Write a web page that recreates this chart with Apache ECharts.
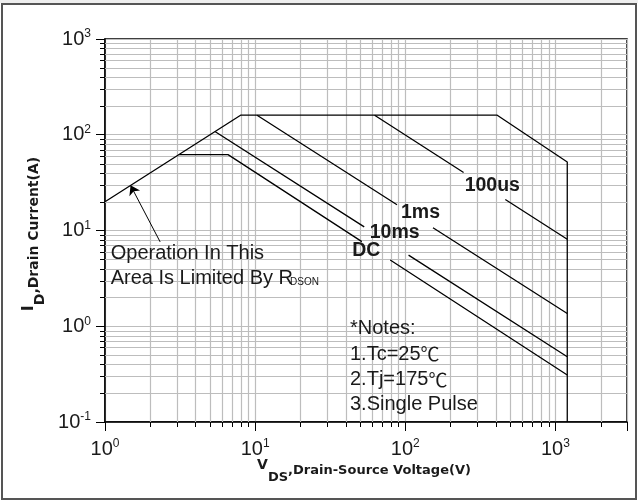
<!DOCTYPE html>
<html><head><meta charset="utf-8">
<script src="https://cdn.jsdelivr.net/npm/echarts@6/dist/echarts.min.js"></script>
<style>html,body{margin:0;padding:0;background:#fff;}#c{width:638px;height:501px;}</style>
</head><body><div id="c"></div>
<script>
// ---- axes ----
const xMin = 1, xMax = 3000, yMin = 0.1, yMax = 1000;
const xDecades = [1, 10, 100, 1000];
const yDecades = [0.1, 1, 10, 100, 1000];
const xMinorTicks = [2,3,4,5,6,7,8,9,20,30,40,50,60,70,80,90,200,300,400,500,600,700,800,900,2000];
const yMinorTicks = [0.2,0.3,0.4,0.5,0.6,0.7,0.8,0.9,2,3,4,5,6,7,8,9,20,30,40,50,60,70,80,90,200,300,400,500,600,700,800,900];

// ---- curves (V, I); null = gap for label ----
const limitV = [1, 8, 410, 1200, 1200];
const limitI = [20, 160, 160, 52, 0.1];
const us100V = [62.5, 244.7, null, 464, 1200];
const us100I = [160, 40.3, null, 21.1, 8.1];
const ms1V = [10.3, 88.1, null, 153, 1200];
const ms1I = [160, 18.6, null, 10.7, 1.36];
const ms10V = [5.4, 53.3, null, 105.2, 1200];
const ms10I = [108, 10.9, null, 5.53, 0.48];
const dcV = [3.1, 6.6, 51.4, null, 79.4, 1200];
const dcI = [62, 62, 7.66, null, 4.92, 0.31];
const arrowV = [2.33, 1.48];
const arrowI = [7.6, 29.6];

const gridColor = '#bdbdbd';
const ink = '#1a1a1a';
const FONT = '"Liberation Sans", Arial, sans-serif';
const TFONT = '"DejaVu Sans", sans-serif';
const CJK = '"Noto Sans CJK SC", sans-serif';

function pairs(vs, is) {
  return vs.map((v, k) => v === null ? ['-', '-'] : [v, is[k]]);
}
function isDecade(v, list) {
  return list.some(d => Math.abs(Math.log10(v) - Math.log10(d)) < 1e-6);
}
function powLabel(list) {
  return function (v) {
    if (!isDecade(v, list)) return '';
    const e = Math.round(Math.log10(v));
    return '{b|10}{s|' + e + '}';
  };
}
const labelRich = {
  b: {fontSize: 20, lineHeight: 22, fontFamily: FONT, color: ink, verticalAlign: 'middle'},
  s: {fontSize: 12, lineHeight: 12, fontFamily: FONT, color: ink, verticalAlign: 'top'}
};

const minorData = xMinorTicks.map(v => [v, yMin, 0]).concat(yMinorTicks.map(v => [xMin, v, 1]));

function renderMinor(params, api) {
  const cs = params.coordSys;
  const kind = api.value(2);
  if (kind === 0) {
    const p = api.coord([api.value(0), yMin]);
    const x = Math.round(p[0]) + 0.5;
    const b = cs.y + cs.height;
    return {type: 'group', children: [
      {type: 'line', shape: {x1: x, y1: cs.y, x2: x, y2: b}, style: {stroke: gridColor, lineWidth: 1.2}},
      {type: 'line', shape: {x1: x, y1: b, x2: x, y2: b + 5}, style: {stroke: '#000', lineWidth: 1}}
    ]};
  } else {
    const p = api.coord([xMin, api.value(1)]);
    const y = Math.round(p[1]) + 0.5;
    return {type: 'group', children: [
      {type: 'line', shape: {x1: cs.x, y1: y, x2: cs.x + cs.width, y2: y}, style: {stroke: gridColor, lineWidth: 1.2}},
      {type: 'line', shape: {x1: cs.x - 5, y1: y, x2: cs.x, y2: y}, style: {stroke: '#000', lineWidth: 1}}
    ]};
  }
}

function curve(name, vs, is, extra) {
  return Object.assign({
    name: name, type: 'line', data: pairs(vs, is), symbol: 'none', connectNulls: false,
    lineStyle: {color: '#000', width: 1.3}, z: 5, silent: true, animation: false
  }, extra || {});
}

function txt(x, y, text, font, align, rich) {
  return {type: 'text', x: x, y: y, z: 50, style: {text: text, font: font, fill: ink, rich: rich,
    align: align || 'left', verticalAlign: 'middle', textAlign: align || 'left', textVerticalAlign: 'middle'}};
}
const degRich = {
  n: {font: '20px ' + FONT, fill: ink},
  c: {font: '19px ' + CJK, fill: ink}
};

const chart = echarts.init(document.getElementById('c'), null, {renderer: 'canvas'});
chart.setOption({
  animation: false,
  backgroundColor: '#fff',
  grid: {left: 105, top: 39, width: 522, height: 383, show: true, borderColor: '#000', borderWidth: 1.5},
  xAxis: {
    type: 'log', logBase: 10, min: xMin, max: xMax,
    axisLine: {show: true, lineStyle: {color: '#000', width: 1.5}},
    axisTick: {show: true, length: 9, lineStyle: {color: '#000', width: 1}},
    axisLabel: {margin: 16, formatter: powLabel(xDecades), rich: labelRich},
    splitLine: {show: true, lineStyle: {color: gridColor, width: 1.2}}
  },
  yAxis: {
    type: 'log', logBase: 10, min: yMin, max: yMax,
    axisLine: {show: true, lineStyle: {color: '#000', width: 1.5}},
    axisTick: {show: true, length: 9, lineStyle: {color: '#000', width: 1}},
    axisLabel: {margin: 14, formatter: powLabel(yDecades), rich: labelRich},
    splitLine: {show: true, lineStyle: {color: gridColor, width: 1.2}}
  },
  series: [
    {type: 'custom', data: minorData, renderItem: renderMinor, clip: false, z: 1, silent: true, animation: false},
    curve('limit', limitV, limitI, {
      markLine: {
        silent: true, symbol: ['none', 'arrow'], symbolSize: 9, label: {show: false},
        lineStyle: {color: '#000', width: 1, type: 'solid'},
        data: [[{coord: [arrowV[0], arrowI[0]]}, {coord: [arrowV[1], arrowI[1]]}]]
      }
    }),
    curve('100us', us100V, us100I),
    curve('1ms', ms1V, ms1I),
    curve('10ms', ms10V, ms10I),
    curve('DC', dcV, dcI)
  ],
  graphic: [
    {type: 'rect', shape: {x: 0, y: 0, width: 638, height: 3}, style: {fill: '#eeeeee'}, z: 0},
    {type: 'rect', shape: {x: 2, y: 4, width: 634, height: 495}, style: {fill: 'none', stroke: '#555', lineWidth: 2}, z: 0},
    txt(492.3, 185.3, '100us', 'bold 19.5px ' + FONT, 'center'),
    txt(420.5, 212.2, '1ms', 'bold 19.5px ' + FONT, 'center'),
    txt(394.7, 233, '10ms', 'bold 19.5px ' + FONT, 'center'),
    txt(366.3, 250.3, 'DC', 'bold 19.5px ' + FONT, 'center'),
    txt(110.7, 253.7, 'Operation In This', '20px ' + FONT),
    txt(110.7, 278.7, 'Area Is Limited By R', '20px ' + FONT),
    txt(290, 282.5, 'DSON', '10px ' + FONT),
    txt(350, 328.3, '*Notes:', '20px ' + FONT),
    txt(350, 354, '{n|1.Tc=25}{c|\u2103}', '20px ' + FONT, 'left', degRich),
    txt(350, 379.5, '{n|2.Tj=175}{c|\u2103}', '20px ' + FONT, 'left', degRich),
    txt(350, 404, '3.Single Pulse', '20px ' + FONT),
    {type: 'text', x: 364, y: 471, z: 50, style: {
      text: '{v|V}{d|DS}{t|,Drain-Source Voltage(V)}', align: 'center', verticalAlign: 'middle',
      textAlign: 'center', textVerticalAlign: 'middle', fill: ink,
      rich: {
        v: {font: 'bold 14px ' + TFONT, lineHeight: 15, verticalAlign: 'top', fill: ink},
        d: {font: 'bold 13px ' + TFONT, lineHeight: 14, verticalAlign: 'bottom', fill: ink},
        t: {font: 'bold 13px ' + TFONT, lineHeight: 26, verticalAlign: 'middle', fill: ink}
      }
    }},
    {type: 'text', x: 34, y: 234, rotation: Math.PI / 2, z: 50, style: {
      text: '{v|I}{d|D}{t|,Drain Current(A)}', align: 'center', verticalAlign: 'middle',
      textAlign: 'center', textVerticalAlign: 'middle', fill: ink,
      rich: {
        v: {font: 'bold 16px ' + TFONT, lineHeight: 16, verticalAlign: 'top', fill: ink},
        d: {font: 'bold 14px ' + TFONT, lineHeight: 14, verticalAlign: 'bottom', fill: ink},
        t: {font: 'bold 14px ' + TFONT, lineHeight: 26, verticalAlign: 'middle', fill: ink}
      }
    }}
  ]
});
</script></body></html>
